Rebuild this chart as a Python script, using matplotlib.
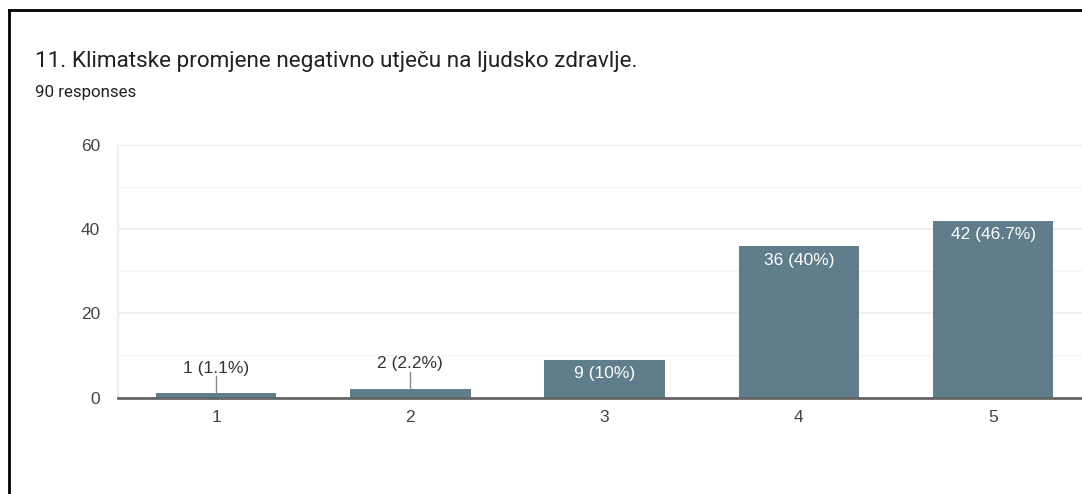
import numpy as np
import matplotlib.pyplot as plt
from matplotlib.lines import Line2D

categories = ["1", "2", "3", "4", "5"]
counts = [1, 2, 9, 36, 42]
labels = ["1 (1.1%)", "2 (2.2%)", "9 (10%)", "36 (40%)", "42 (46.7%)"]
yticks = [0, 20, 40, 60]

title = "11. Klimatske promjene negativno utječu na ljudsko zdravlje."
subtitle = "90 responses"

bar_color = "#607d8b"
W, H = 1082, 494

fig = plt.figure(figsize=(W / 100, H / 100), dpi=100)
fig.patch.set_facecolor("white")

# axes placed in pixel coords: left 118, right beyond edge, bottom 397.5, top 145
ax = fig.add_axes([118 / W, 1 - 397.5 / H, 1 - 118 / W, (397.5 - 145) / H])
x = np.arange(len(categories))
ax.bar(x, counts, width=0.62, color=bar_color, zorder=3)

ax.set_xlim(-0.505, 4.458)
ax.set_ylim(0, 60)
ax.set_yticks(yticks)
ax.set_yticks([10, 30, 50], minor=True)
ax.set_xticks(x)
ax.set_xticklabels(categories)
ax.grid(axis="y", which="major", color="#ebebeb", lw=1.2, zorder=0)
ax.grid(axis="y", which="minor", color="#f4f4f4", lw=1.0, zorder=0)
for s in ["top", "right"]:
    ax.spines[s].set_visible(False)
ax.spines["left"].set_color("#ebebeb")
ax.spines["left"].set_linewidth(1.2)
ax.spines["bottom"].set_color("#666666")
ax.spines["bottom"].set_linewidth(2)
ax.spines["bottom"].set_zorder(4)
ax.tick_params(axis="both", which="both", length=0, labelsize=12.5,
               labelcolor="#444444")
ax.tick_params(axis="y", pad=13)
ax.tick_params(axis="x", pad=9)
for t in ax.get_xticklabels() + ax.get_yticklabels():
    t.set_family("Liberation Sans")

for i, (c, lab) in enumerate(zip(counts, labels)):
    if c < 5:
        ax.plot([i, i], [c, c + 4.0], color="#888888", lw=1, zorder=4)
        ax.text(i, c + 4.2, lab, ha="center", va="bottom", fontsize=12.5,
                color="#333333", family="Liberation Sans")
    else:
        ax.text(i, c - 1.6, lab, ha="center", va="top", fontsize=12.5,
                color="white", family="Liberation Sans", zorder=5)

fig.text(35 / W, 1 - 62 / H, title, fontsize=16.2, family="Roboto",
         color="#202124", va="center", ha="left")
fig.text(35 / W, 1 - 92 / H, subtitle, fontsize=12.2, family="Roboto",
         color="#202124", va="center", ha="left")

# black frame of the screenshot
fig.add_artist(Line2D([9 / W, 9 / W], [0, 1 - 10 / H], color="black", lw=2,
                      transform=fig.transFigure))
fig.add_artist(Line2D([9 / W, 1], [1 - 10 / H, 1 - 10 / H], color="black",
                      lw=2, transform=fig.transFigure))

fig.savefig("out.png", dpi=100)
